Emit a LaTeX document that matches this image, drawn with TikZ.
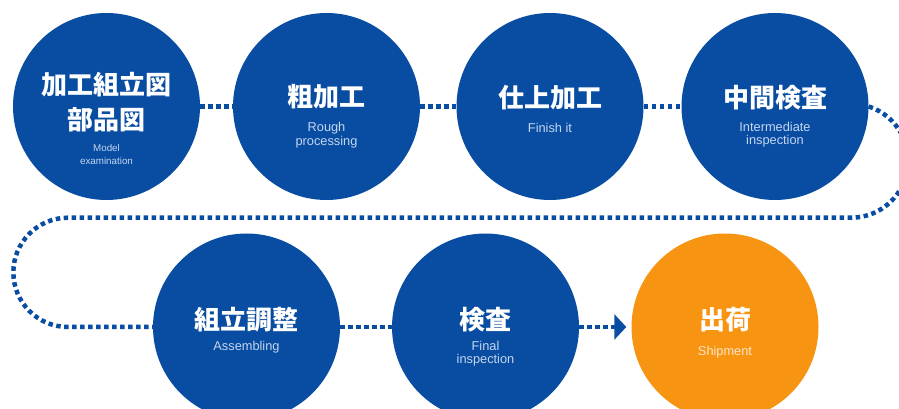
\documentclass[tikz,border=0pt]{standalone}
\usepackage{fontspec}
\newfontfamily\jpfont{Noto Sans CJK JP}
\newfontfamily\enfont{Liberation Sans}
\usetikzlibrary{arrows.meta}
\definecolor{cblue}{RGB}{8,77,162}
\definecolor{corange}{RGB}{247,148,17}
\definecolor{ltblue}{RGB}{196,214,240}
\definecolor{ltorange}{RGB}{255,230,200}
\begin{document}
\begin{tikzpicture}[x=1pt,y=1pt,
  disc/.style={circle, fill=cblue, minimum size=187pt, inner sep=0pt},
  odisc/.style={disc, fill=corange},
  jp/.style={font=\jpfont\bfseries\fontsize{26}{30}\selectfont, text=white, inner sep=0pt},
  en/.style={font=\enfont\fontsize{12.8}{13.5}\selectfont, text=ltblue, inner sep=0pt, align=center},
  ens/.style={en, font=\enfont\fontsize{9.8}{12.5}\selectfont},
  dots/.style={draw=cblue, line width=4.5pt, dash pattern=on 4.5pt off 3.5pt}
]
\useasboundingbox (0,0) rectangle (899,409);
\clip (0,0) rectangle (899,409);
% circles
\node[disc] (c1) at (106.5,302.5) {};
\node[disc] (c2) at (326.5,302.5) {};
\node[disc] (c3) at (550,302.5) {};
\node[disc] (c4) at (775,302.5) {};
\node[disc] (c5) at (246.5,82) {};
\node[disc] (c6) at (485.5,82) {};
\node[odisc] (c7) at (725,82) {};
% texts
\node[jp] (t1a) at ([yshift=21.5pt]c1.center) {加工組立図};
\node[jp] (t1b) at ([yshift=-13.5pt]c1.center) {部品図};
\node[ens] (e1) at ([yshift=-48pt]c1.center) {Model\\examination};
\node[jp] (t2) at ([yshift=9.5pt]c2.center) {粗加工};
\node[en] (e2) at ([yshift=-28.5pt]c2.center) {Rough\\processing};
\node[jp] (t3) at ([yshift=8.5pt]c3.center) {仕上加工};
\node[en] (e3) at ([yshift=-21.5pt]c3.center) {Finish it};
\node[jp] (t4) at ([yshift=8.5pt]c4.center) {中間検査};
\node[en] (e4) at ([yshift=-28pt]c4.center) {Intermediate\\inspection};
\node[jp] (t5) at ([yshift=7pt]c5.center) {組立調整};
\node[en] (e5) at ([yshift=-20pt]c5.center) {Assembling};
\node[jp] (t6) at ([yshift=7pt]c6.center) {検査};
\node[en] (e6) at ([yshift=-26.5pt]c6.center) {Final\\inspection};
\node[jp] (t7) at ([yshift=7pt]c7.center) {出荷};
\node[en, text=ltorange] (e7) at ([yshift=-25pt]c7.center) {Shipment};
% connectors
\draw[dots] (c1.east) -- (c2.west);
\draw[dots] (c2.east) -- (c3.west);
\draw[dots] (c3.east) -- (c4.west);
\coordinate (lt) at (68,191.3);
\draw[dots] (c4.east) arc[start angle=72, end angle=-90, radius=57] -- (lt)
  arc[start angle=90, end angle=270, radius=54.65] -- (c5.west);
\draw[dots] (c5.east) -- (c6.west);
\draw[dots, -{Triangle[length=12pt,width=25pt]}, shorten >=5pt] (c6.east) -- (c7.west);
\end{tikzpicture}
\end{document}
